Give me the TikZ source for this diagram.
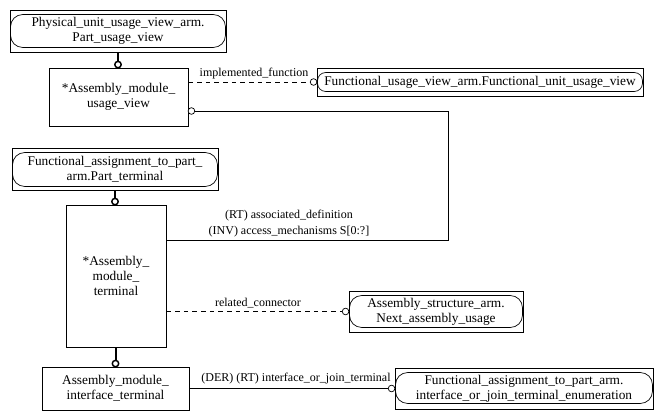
\documentclass[tikz,border=0pt]{standalone}
\usepackage{fontspec}
\setmainfont{Liberation Serif}
\usetikzlibrary{calc}
\begin{document}
\begin{tikzpicture}[x=0.75pt,y=-0.75pt,
  entity/.style={draw, line width=0.65pt, align=center, inner sep=0pt,
    font=\fontsize{10}{11}\selectfont},
  oval/.style={draw, line width=0.5pt, rounded corners=#1},
  lbl/.style={font=\fontsize{9}{12}\selectfont, align=center, inner sep=0pt},
  rel/.style={line width=0.55pt},
  opt/.style={rel, dash pattern=on 3.5pt off 3pt},
  sub/.style={line width=1.5pt},
  ring/.style={draw, fill=white, line width=0.55pt},
  subring/.style={draw, fill=white, line width=1.1pt},
]
\useasboundingbox (0,0) rectangle (662,420);

% entities
\node[entity, minimum width=162pt, minimum height=31.5pt] (pu) at (118,31)
  {Physical\_unit\_usage\_view\_arm.\\Part\_usage\_view};
\draw[oval=9pt] ($(pu.north west)+(1,5)$) rectangle ($(pu.south east)+(-1,-5)$);

\node[entity, minimum width=104.25pt, minimum height=43.5pt] (amu) at (118.5,97)
  {*Assembly\_module\_\\usage\_view};

\node[entity, minimum width=244.5pt, minimum height=21pt] (fu) at (480,82)
  {Functional\_usage\_view\_arm.Functional\_unit\_usage\_view};
\draw[oval=6pt] ($(fu.north west)+(1,5)$) rectangle ($(fu.south east)+(-1,-5)$);

\node[entity, minimum width=154.5pt, minimum height=31.5pt] (pt) at (115,169)
  {Functional\_assignment\_to\_part\_\\arm.Part\_terminal};
\draw[oval=9pt] ($(pt.north west)+(1,5)$) rectangle ($(pt.south east)+(-1,-4)$);

\node[entity, minimum width=75pt, minimum height=106.5pt] (amt) at (116,276)
  {*Assembly\_\\module\_\\terminal};

\node[entity, minimum width=130.5pt, minimum height=30.75pt] (nau) at (436,311.5)
  {Assembly\_structure\_arm.\\Next\_assembly\_usage};
\draw[oval=9pt] ($(nau.north west)+(1,5)$) rectangle ($(nau.south east)+(-1,-5)$);

\node[entity, minimum width=110.25pt, minimum height=32.25pt] (ait) at (115.5,388.5)
  {Assembly\_module\_\\interface\_terminal};

\node[entity, minimum width=193.5pt, minimum height=30.75pt] (ije) at (524,388.5)
  {Functional\_assignment\_to\_part\_arm.\\interface\_or\_join\_terminal\_enumeration};
\draw[oval=9pt] ($(ije.north west)+(1,5)$) rectangle ($(ije.south east)+(-1,-6)$);

% supertype links
\draw[sub] (pu.south) -- ($(pu.south |- amu.north)+(0,-6)$);
\draw[subring] ($(pu.south |- amu.north)+(0,-3)$) circle[radius=2.4pt];

\draw[sub] (pt.south) -- ($(pt.south |- amt.north)+(0,-6)$);
\draw[subring] ($(pt.south |- amt.north)+(0,-3)$) circle[radius=2.4pt];

\draw[sub] (amt.south -| ait.north) -- ($(ait.north)+(0,-6)$);
\draw[subring] ($(ait.north)+(0,-3)$) circle[radius=2.4pt];

% attribute links
\draw[opt] (amu.east |- fu.west) -- ($(fu.west)+(-6,0)$);
\draw[ring] ($(fu.west)+(-3,0)$) circle[radius=2.5pt];
\node[lbl] (limpl) at (254,74) {implemented\_function};

\coordinate (adA) at (448,240);
\coordinate (adB) at (448,111);
\draw[rel] (amt.east |- adA) -- (adA) -- (adB) -- ($(amu.east |- adB)+(6,0)$);
\draw[ring] ($(amu.east |- adB)+(3,0)$) circle[radius=2.5pt];
\node[lbl] (lassoc) at (289,224) {(RT) associated\_definition\\(INV) access\_mechanisms S[0:?]};

\draw[opt] (amt.east |- nau.west) -- ($(nau.west)+(-6,0)$);
\draw[ring] ($(nau.west)+(-3,0)$) circle[radius=2.5pt];
\node[lbl] (lrel) at (258,303) {related\_connector};

\draw[rel] (ait.east |- ije.west) -- ($(ije.west)+(-6,0)$);
\draw[ring] ($(ije.west)+(-3,0)$) circle[radius=2.5pt];
\node[lbl] (lder) at (296,379) {(DER) (RT) interface\_or\_join\_terminal};
\end{tikzpicture}
\end{document}
